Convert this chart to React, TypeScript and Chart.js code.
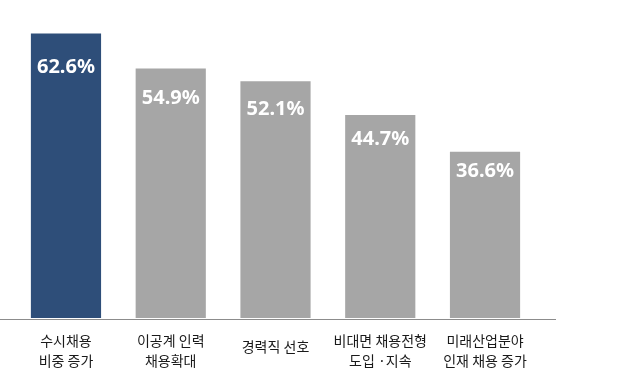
import React, { useEffect, useRef } from "react";
import { Chart, registerables } from "chart.js";

Chart.register(...registerables);

const categories: string[][] = [
  ["수시채용", "비중 증가"],
  ["이공계 인력", "채용확대"],
  ["경력직 선호"],
  ["비대면 채용전형", "도입 ·지속"],
  ["미래산업분야", "인재 채용 증가"],
];
const values: number[] = [62.6, 54.9, 52.1, 44.7, 36.6];
const barColors: string[] = ["#2E4E79", "#A6A6A6", "#A6A6A6", "#A6A6A6", "#A6A6A6"];

const labelPlugin = {
  id: "customLabels",
  afterDatasetsDraw(chart: any) {
    const ctx = chart.ctx as CanvasRenderingContext2D;
    const area = chart.chartArea;
    const meta = chart.getDatasetMeta(0);
    ctx.save();
    // axis line
    ctx.strokeStyle = "#8C8C8C";
    ctx.lineWidth = 1;
    ctx.beginPath();
    ctx.moveTo(0, area.bottom + 1.5);
    ctx.lineTo(chart.width - 72, area.bottom + 1.5);
    ctx.stroke();
    // value labels
    ctx.fillStyle = "#FFFFFF";
    ctx.font = "bold 20px 'Noto Sans', sans-serif";
    ctx.textAlign = "center";
    ctx.textBaseline = "middle";
    meta.data.forEach((bar: any, i: number) => {
      const p = bar.getProps(["x", "y", "base"], true);
      const h = p.base - p.y;
      ctx.fillText(values[i].toFixed(1) + "%", p.x, p.y + h * 0.12);
    });
    // category labels
    ctx.fillStyle = "#1A1A1A";
    ctx.font = "14px 'Noto Sans CJK KR', sans-serif";
    meta.data.forEach((bar: any, i: number) => {
      const p = bar.getProps(["x"], true);
      const lines = categories[i];
      if (lines.length === 1) {
        ctx.fillText(lines[0], p.x, area.bottom + 29);
      } else {
        lines.forEach((ln, j) => {
          ctx.fillText(ln, p.x, area.bottom + 23 + j * 20);
        });
      }
    });
    ctx.restore();
  },
};

export default function App() {
  const canvasRef = useRef<HTMLCanvasElement | null>(null);
  useEffect(() => {
    if (!canvasRef.current) return;
    const chart = new Chart(canvasRef.current, {
      type: "bar",
      data: {
        labels: categories.map((c) => c.join(" ")),
        datasets: [
          {
            data: values,
            backgroundColor: barColors,
            borderWidth: 0,
            categoryPercentage: 1,
            barPercentage: 0.67,
          },
        ],
      },
      options: {
        animation: false,
        responsive: false,
        maintainAspectRatio: false,
        layout: { padding: { left: 13.6, right: 90.6, top: 0, bottom: 62 } },
        plugins: { legend: { display: false }, tooltip: { enabled: false } },
        scales: {
          x: { display: false, grid: { display: false } },
          y: { display: false, min: 0, max: 70, grid: { display: false } },
        },
      },
      plugins: [labelPlugin],
    });
    return () => chart.destroy();
  }, []);
  return (
    <div style={{ position: "absolute", left: 0, top: 0, width: 628, height: 380, background: "#fff" }}>
      <canvas ref={canvasRef} width={628} height={380} style={{ width: 628, height: 380 }} />
    </div>
  );
}
